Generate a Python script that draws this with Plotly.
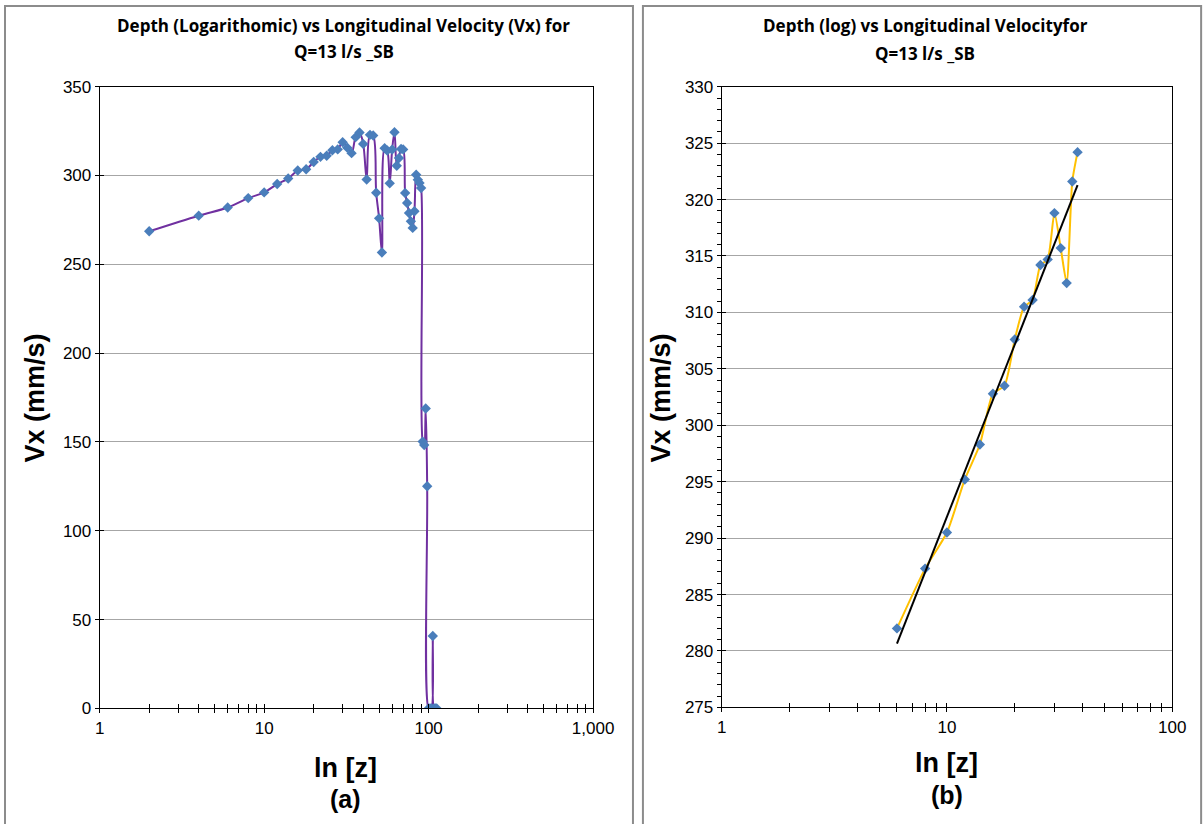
import numpy as np
import plotly.graph_objects as go

# The photographed page is shrunk slightly and shifted (measured): out = S*fig + B.
# The figure is made a little larger and every target pixel is mapped back through this.
SX, BX = 0.982, 2.0
SY, BY = 0.981, 8.0
W, H = 1228, 840

# ---------------- data ----------------
depth_a = [2, 4, 6, 8, 10, 12, 14, 16, 18, 20, 22, 24, 26, 28, 30, 32, 34, 36, 38,
           40, 42, 44, 46, 48, 50, 52, 54, 56, 58, 60, 62, 64, 66, 68, 70, 72, 74,
           76, 78, 80, 82, 84, 86, 88, 90, 92, 94, 96, 98, 100, 102, 104, 106, 108, 110, 112]
vx_a = [268.6, 277.4, 282.0, 287.3, 290.5, 295.2, 298.3, 302.8, 303.5, 307.6, 310.5, 311.1,
        314.2, 314.7, 318.8, 315.7, 312.6, 321.6, 324.2,
        317.8, 297.8, 322.9, 322.5, 290.3, 275.9, 256.7, 315.4, 314.1, 295.6, 314.6, 324.4,
        305.5, 309.8, 315.0, 314.7, 290.2, 284.5, 278.9, 274.2, 270.5, 279.9, 300.4, 297.6,
        295.8, 293.0, 150.2, 148.3, 168.8, 125.1, 0.0, 0.0, 0.0, 40.8, 0.0, 0.0, 0.0]

depth_b = [6, 8, 10, 12, 14, 16, 18, 20, 22, 24, 26, 28, 30, 32, 34, 36, 38]
vx_b = [282.0, 287.3, 290.5, 295.2, 298.3, 302.8, 303.5, 307.6, 310.5, 311.1,
        314.2, 314.7, 318.8, 315.7, 312.6, 321.6, 324.2]

xticks_a_labels = ["1", "10", "100", "1,000"]
xticks_b_labels = ["1", "10", "100"]

# logarithmic trend line for panel (b)
coef = np.polyfit(np.log(depth_b), vx_b, 1)
trend_x = [min(depth_b), max(depth_b)]
trend_y = list(np.polyval(coef, np.log(trend_x)))

# ---------------- helpers ----------------
def px(x):
    return ((x - BX) / SX) / W

def py(y):
    return 1 - ((y - BY) / SY) / H

def log_ticks(decades):
    vals, txt = [], []
    for d in range(decades):
        for m in range(1, 10):
            vals.append(m * 10 ** d)
            txt.append("")
    vals.append(10 ** decades)
    txt.append("")
    return vals, txt

TICKFONT = dict(family="Liberation Sans, Arial", size=17, color="black")
GRID = "#A6A6A6"

fig = go.Figure()

fig.add_trace(go.Scatter(
    x=depth_a, y=vx_a, mode="lines+markers",
    line=dict(color="#7030A0", width=2, shape="spline", smoothing=1.0),
    marker=dict(symbol="diamond", size=8, color="#4A7EBB", line=dict(width=0)),
    xaxis="x", yaxis="y", showlegend=False))

fig.add_trace(go.Scatter(
    x=depth_b, y=vx_b, mode="lines+markers",
    line=dict(color="#FFC000", width=2, shape="spline", smoothing=0.6),
    marker=dict(symbol="diamond", size=8, color="#4A7EBB", line=dict(width=0)),
    xaxis="x2", yaxis="y2", showlegend=False))

fig.add_trace(go.Scatter(
    x=trend_x, y=trend_y, mode="lines",
    line=dict(color="black", width=2),
    xaxis="x2", yaxis="y2", showlegend=False))

for xa, ya in [("x3", "y3"), ("x4", "y4")]:
    fig.add_trace(go.Scatter(x=[None], y=[None], xaxis=xa, yaxis=ya,
                             showlegend=False, hoverinfo="skip"))

dom_a_x = [px(97), px(592)]
dom_b_x = [px(721), px(1173)]
dom_a_y = [py(710), py(86)]
dom_b_y = [py(709), py(86)]

va, ta = log_ticks(3)
for i, lab in enumerate(xticks_a_labels):
    ta[i * 9] = lab
vb, tb = log_ticks(2)
for i, lab in enumerate(xticks_b_labels):
    tb[i * 9] = lab

common_x = dict(type="log", showgrid=False, zeroline=False, showline=True,
                linecolor="black", linewidth=1, mirror=True, tickmode="array",
                tickcolor="black", ticklen=4, tickwidth=1, tickfont=TICKFONT)
common_y = dict(showgrid=True, gridcolor=GRID, gridwidth=1, zeroline=False,
                showline=True, linecolor="black", linewidth=1, mirror=True,
                tickcolor="black", ticklen=4, tickwidth=1, tickfont=TICKFONT)

fig.update_layout(
    width=W, height=H, margin=dict(l=0, r=0, t=0, b=0),
    paper_bgcolor="white", plot_bgcolor="white",
    xaxis=dict(common_x, domain=dom_a_x, range=[0, 3], anchor="y",
               tickvals=va, ticktext=ta, ticks="outside"),
    yaxis=dict(common_y, domain=dom_a_y, range=[0, 350], anchor="x",
               tickmode="linear", tick0=0, dtick=50, ticks="outside"),
    xaxis2=dict(common_x, domain=dom_b_x, range=[0, 2], anchor="y2",
                tickvals=vb, ticktext=tb, ticks="outside"),
    yaxis2=dict(common_y, domain=dom_b_y, range=[275, 330], anchor="x2",
                tickmode="linear", tick0=275, dtick=5, ticks="outside",
                minor=dict(dtick=1, ticks="outside", ticklen=4, tickcolor="black", showgrid=False)),
    xaxis3=dict(type="log", domain=dom_a_x, range=[0, 3], anchor="y3", overlaying="x",
                tickmode="array", tickvals=va, ticktext=[""] * len(va), ticks="inside",
                ticklen=4, tickcolor="black", showgrid=False, showline=False, zeroline=False),
    yaxis3=dict(domain=dom_a_y, range=[0, 350], anchor="x3", overlaying="y",
                tickmode="linear", tick0=0, dtick=50, ticks="inside", ticklen=4,
                tickcolor="black", showticklabels=False, showgrid=False, showline=False,
                zeroline=False),
    xaxis4=dict(type="log", domain=dom_b_x, range=[0, 2], anchor="y4", overlaying="x2",
                tickmode="array", tickvals=vb, ticktext=[""] * len(vb), ticks="inside",
                ticklen=4, tickcolor="black", showgrid=False, showline=False, zeroline=False),
    yaxis4=dict(domain=dom_b_y, range=[275, 330], anchor="x4", overlaying="y2",
                tickmode="linear", tick0=275, dtick=5, ticks="inside", ticklen=4,
                tickcolor="black", showticklabels=False, showgrid=False, showline=False,
                zeroline=False),
)

# panel frames (left, top, right edges; they run off the bottom of the page)
FRAME = dict(color="#8C8C8C", width=2)
for x0, x1 in [(2, 632), (642, 1202)]:
    fig.add_shape(type="path", xref="paper", yref="paper",
                  path=f"M {px(x0)},0 L {px(x0)},{py(5)} L {px(x1)},{py(5)} L {px(x1)},0",
                  line=FRAME)

TFONT = dict(family="Open Sans, Lato", size=17, color="black")
AFONT = dict(family="Liberation Sans, Arial", size=27, color="black")

def ann(text, x, y, font, angle=0):
    fig.add_annotation(text=text, x=px(x), y=py(y), xref="paper", yref="paper",
                       xanchor="center", yanchor="middle", showarrow=False,
                       font=font, textangle=angle)

ann("<b>Depth (Logarithomic) vs Longitudinal Velocity (Vx) for</b>", 342, 25, TFONT)
ann("<b>Q=13 l/s _SB</b>", 342, 51, TFONT)
ann("<b>Depth (log) vs Longitudinal Velocityfor</b>", 925, 25, TFONT)
ann("<b>Q=13 l/s _SB</b>", 925, 53, TFONT)

ann("<b>Vx (mm/s)</b>", 32, 398, AFONT, -90)
ann("<b>Vx (mm/s)</b>", 660, 398, AFONT, -90)
ann("<b>ln [z]</b>", 344, 770, AFONT)
ann("<b>(a)</b>", 344, 801, dict(AFONT, size=25))
ann("<b>ln [z]</b>", 947, 765, AFONT)
ann("<b>(b)</b>", 947, 797, dict(AFONT, size=25))

fig.write_html("out.html")
